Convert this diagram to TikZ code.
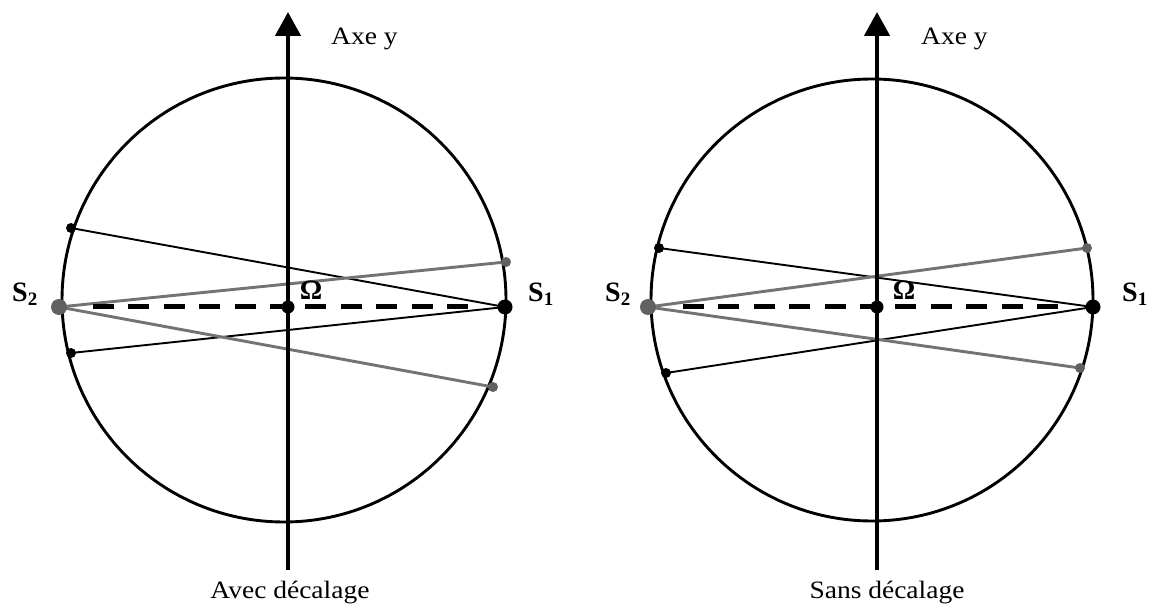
\documentclass[tikz,border=0pt]{standalone}
\usepackage{fontspec}
\setmainfont{Liberation Serif}
\newfontfamily\capfont[FakeStretch=1.1]{Liberation Serif}
\usetikzlibrary{arrows.meta,backgrounds}
\definecolor{lgray}{gray}{0.45}
\definecolor{dgray}{gray}{0.38}
\begin{document}
\begin{tikzpicture}[x=1pt,y=-1pt,
  circ/.style={line width=2.9pt},
  bline/.style={line width=1.9pt},
  gline/.style={line width=2.9pt, draw=lgray},
  dashline/.style={line width=5pt, dash pattern=on 21pt off 14.4pt},
  axisline/.style={line width=4.6pt, -{Triangle[width=25pt,length=24pt]}},
  bdot/.style={circle, fill=black, inner sep=0pt, minimum size=#1},
  bdot/.default=10pt,
  gdot/.style={circle, fill=dgray, inner sep=0pt, minimum size=#1},
  gdot/.default=10pt,
  lab/.style={font=\fontsize{25}{25}\selectfont\capfont, inner sep=0pt},
  slab/.style={font=\fontsize{28}{28}\selectfont\bfseries, inner sep=0pt},
  omlab/.style={font=\fontsize{28}{28}\selectfont\bfseries, inner sep=0pt},
]
\useasboundingbox (0,0) rectangle (1154,612);

% ---------- left diagram nodes ----------
\node[gdot=16pt] (S2L) at (59,307) {};
\node[bdot=15pt] (S1L) at (505,307) {};
\node[bdot=13pt] (OL) at (288,307) {};
\node[bdot] (ulL) at (71,228) {};
\node[bdot] (llL) at (71,353) {};
\node[gdot] (urL) at (506,262) {};
\node[gdot] (lrL) at (493,387) {};
\coordinate (cL) at (284,300);
\coordinate (dsL) at (93,307);
\coordinate (deL) at (468,307);
\coordinate (abL) at (288,570);
\coordinate (atL) at (288,12);

% ---------- right diagram nodes ----------
\node[gdot=16pt] (S2R) at (648,307) {};
\node[bdot=15pt] (S1R) at (1093,307) {};
\node[bdot=13pt] (OR) at (877,307) {};
\node[bdot] (ulR) at (659,248) {};
\node[bdot] (llR) at (666,373) {};
\node[gdot] (urR) at (1087,248) {};
\node[gdot] (lrR) at (1080,368) {};
\coordinate (cR) at (872,300);
\coordinate (dsR) at (683,307);
\coordinate (deR) at (1058,307);
\coordinate (abR) at (877,570);
\coordinate (atR) at (877,12);

\begin{scope}[on background layer]
  \fill[white] (0,0) rectangle (1154,612);
  % left
  \draw[circ] (cL) circle[radius=222pt];
  \draw[bline] (ulL.center) -- (S1L.center);
  \draw[bline] (llL.center) -- (S1L.center);
  \draw[gline] (S2L.center) -- (urL.center);
  \draw[gline] (S2L.center) -- (lrL.center);
  \draw[dashline] (dsL) -- (deL);
  \draw[axisline] (abL) -- (atL);
  % right
  \draw[circ] (cR) circle[radius=221pt];
  \draw[bline] (ulR.center) -- (S1R.center);
  \draw[bline] (llR.center) -- (S1R.center);
  \draw[gline] (S2R.center) -- (urR.center);
  \draw[gline] (S2R.center) -- (lrR.center);
  \draw[dashline] (dsR) -- (deR);
  \draw[axisline] (abR) -- (atR);
\end{scope}

% ---------- labels ----------
\node[slab, anchor=base west] (s2Ltxt) at (12,302) {S\raisebox{-4pt}{\fontsize{19}{19}\selectfont 2}};
\node[slab, anchor=base west] (s1Ltxt) at (528,302) {S\raisebox{-4pt}{\fontsize{19}{19}\selectfont 1}};
\node[omlab, anchor=base] (omLtxt) at (311,300) {Ω};
\node[lab, anchor=base west] (axLtxt) at (331,45) {Axe y};
\node[lab, anchor=base] (capL) at (290,598) {Avec décalage};

\node[slab, anchor=base west] (s2Rtxt) at (605,302) {S\raisebox{-4pt}{\fontsize{19}{19}\selectfont 2}};
\node[slab, anchor=base west] (s1Rtxt) at (1122,302) {S\raisebox{-4pt}{\fontsize{19}{19}\selectfont 1}};
\node[omlab, anchor=base] (omRtxt) at (904,300) {Ω};
\node[lab, anchor=base west] (axRtxt) at (921,45) {Axe y};
\node[lab, anchor=base] (capR) at (887,598) {Sans décalage};
\end{tikzpicture}
\end{document}
